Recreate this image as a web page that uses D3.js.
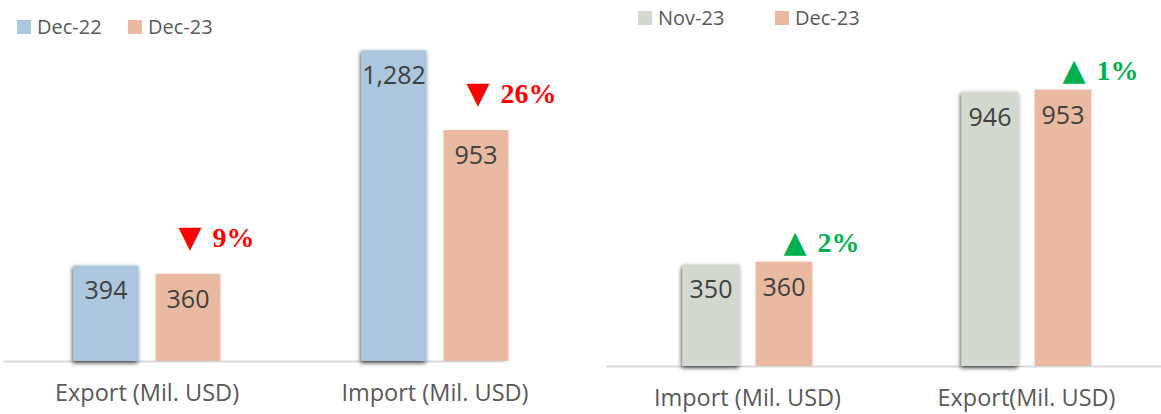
<!DOCTYPE html>
<html>
<head>
<meta charset="utf-8">
<script src="https://cdn.jsdelivr.net/npm/d3@7"></script>
<style>
  body { margin: 0; background: #fff; }
  svg { display: block; }
</style>
</head>
<body>
<svg id="chart"></svg>
<script>
const width = 1161, height = 414;

// left panel: year over year
const leftCategories = ['Export (Mil. USD)', 'Import (Mil. USD)'];
const leftSeries = ['Dec-22', 'Dec-23'];
const leftDec22 = [394, 1282];
const leftDec23 = [360, 953];
const leftArrow = ['\u25BC', '\u25BC'];
const leftChange = ['9%', '26%'];

// right panel: month over month
const rightCategories = ['Import (Mil. USD)', 'Export(Mil. USD)'];
const rightSeries = ['Nov-23', 'Dec-23'];
const rightNov23 = [350, 946];
const rightDec23 = [360, 953];
const rightArrow = ['\u25B2', '\u25B2'];
const rightChange = ['2%', '1%'];

const svg = d3.select('#chart')
  .attr('width', width)
  .attr('height', height);

const defs = svg.append('defs');
const f = defs.append('filter').attr('id', 'shadow')
  .attr('x', '-20%').attr('y', '-10%').attr('width', '140%').attr('height', '120%');
f.append('feDropShadow')
  .attr('dx', -1).attr('dy', 2).attr('stdDeviation', 2)
  .attr('flood-color', '#000').attr('flood-opacity', 0.7);

function panel(o) {
  const g = svg.append('g');

  const x0 = d3.scaleBand()
    .domain(o.categories)
    .range(o.xRange);

  const x1 = d3.scaleBand()
    .domain(o.series)
    .range([-o.groupW / 2, o.groupW / 2])
    .paddingInner(o.inner);

  const y = d3.scaleLinear()
    .domain([0, o.yMax])
    .range([o.base, 0]);

  const rows = [];
  o.categories.forEach((c, i) => {
    o.series.forEach((s, j) => {
      rows.push({cat: c, series: s, value: o.values[j][i], j, i});
    });
  });

  const cx = d => x0(d.cat) + x0.bandwidth() / 2 + x1(d.series);

  // baseline
  g.append('line')
    .attr('x1', o.axis[0]).attr('x2', o.axis[1])
    .attr('y1', o.base + 0.5).attr('y2', o.base + 0.5)
    .attr('stroke', '#d9d9d9').attr('stroke-width', 2);

  g.selectAll('rect.bar')
    .data(rows)
    .join('rect')
    .attr('class', 'bar')
    .attr('x', cx)
    .attr('y', d => y(d.value))
    .attr('width', x1.bandwidth())
    .attr('height', d => o.base - y(d.value))
    .attr('fill', d => o.colors[d.j])
    .attr('filter', d => d.j === 0 ? 'url(#shadow)' : null);

  g.selectAll('text.val')
    .data(rows)
    .join('text')
    .attr('class', 'val')
    .attr('x', d => cx(d) + x1.bandwidth() / 2)
    .attr('y', d => y(d.value) + 34)
    .attr('text-anchor', 'middle')
    .attr('font-family', 'Open Sans, sans-serif')
    .attr('font-size', 25)
    .attr('fill', '#404040')
    .text(d => d3.format(',')(d.value));

  // change labels next to the second bar
  const last = rows.filter(d => d.j === 1);
  const chg = g.selectAll('text.chg')
    .data(last)
    .join('text')
    .attr('class', 'chg')
    .attr('x', d => cx(d) + o.chgDx)
    .attr('y', d => y(d.value) + o.chgDy)
    .attr('fill', o.chgColor);
  chg.append('tspan')
    .attr('font-family', 'DejaVu Sans, sans-serif')
    .attr('font-size', 30)
    .text(d => o.arrow[d.i]);
  chg.append('tspan')
    .attr('dx', 11)
    .attr('font-family', 'Liberation Serif, Times New Roman, serif')
    .attr('font-weight', 'bold')
    .attr('font-size', 28)
    .text(d => o.change[d.i]);

  // category labels
  g.selectAll('text.cat')
    .data(o.categories)
    .join('text')
    .attr('class', 'cat')
    .attr('x', d => x0(d) + x0.bandwidth() / 2)
    .attr('y', o.catY)
    .attr('text-anchor', 'middle')
    .attr('font-family', 'Open Sans, sans-serif')
    .attr('font-size', 23.5)
    .attr('fill', '#595959')
    .text(d => d);

  // legend
  const lg = g.selectAll('g.leg')
    .data(o.series)
    .join('g')
    .attr('class', 'leg')
    .attr('transform', (d, i) => `translate(${o.legX[i]},${o.legY})`);
  lg.append('rect')
    .attr('width', 14).attr('height', 14)
    .attr('fill', (d, i) => o.colors[i]);
  lg.append('text')
    .attr('x', 20).attr('y', 14)
    .attr('font-family', 'Open Sans, sans-serif')
    .attr('font-size', 20)
    .attr('fill', '#595959')
    .text(d => d);
}

panel({
  categories: leftCategories,
  series: leftSeries,
  values: [leftDec22, leftDec23],
  arrow: leftArrow,
  change: leftChange,
  colors: ['#adc8de', '#eab9a1'],
  xRange: [3, 579],
  groupW: 147,
  inner: 0.207,
  yMax: 1489,
  base: 361,
  axis: [3, 505],
  chgDx: 23,
  chgDy: -27,
  chgColor: '#ff0000',
  catY: 401,
  legX: [17, 128],
  legY: 20
});

panel({
  categories: rightCategories,
  series: rightSeries,
  values: [rightNov23, rightDec23],
  arrow: rightArrow,
  change: rightChange,
  colors: ['#d4d9d0', '#eab9a1'],
  xRange: [608, 1166],
  groupW: 130,
  inner: 0.219,
  yMax: 1262,
  base: 366,
  axis: [606, 1161],
  chgDx: 28,
  chgDy: -10,
  chgColor: '#00b050',
  catY: 406,
  legX: [638, 775],
  legY: 11
});
</script>
</body>
</html>
